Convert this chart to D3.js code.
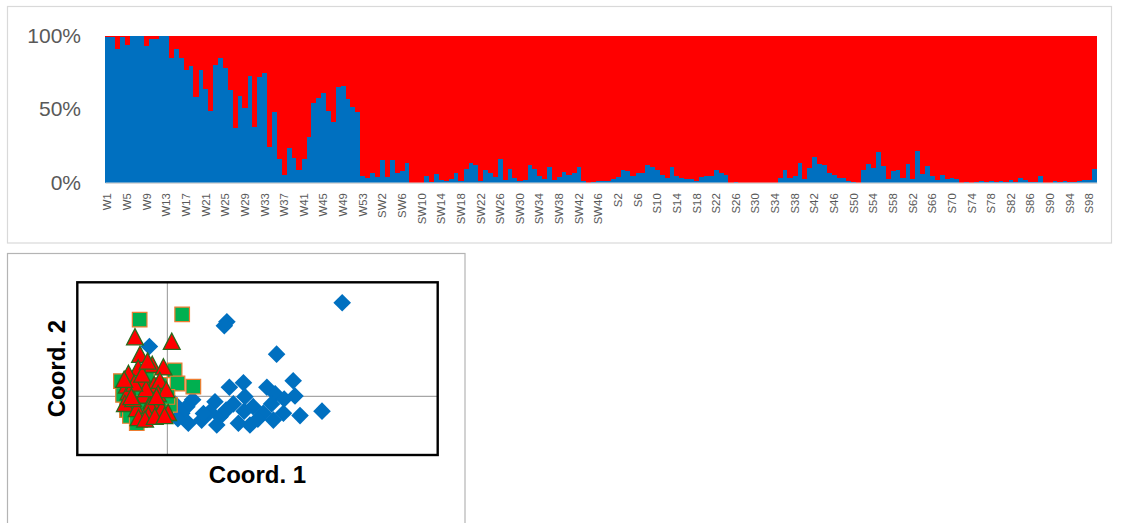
<!DOCTYPE html>
<html>
<head>
<meta charset="utf-8">
<script src="https://cdn.jsdelivr.net/npm/d3@7"></script>
<style>
  html, body { margin: 0; padding: 0; background: #fff; }
  svg { display: block; }
  text { font-family: "Liberation Sans", Arial, sans-serif; }
</style>
</head>
<body>
<svg id="chart" width="1121" height="523"></svg>
<script>
// ---------- Ancestry proportions per sample (two clusters, 100% stacked) ----------
const categories = [
  "W1","W2","W3","W4","W5","W6","W7","W8","W9","W10","W11","W12","W13","W14","W15","W16","W17","W18","W19","W20",
  "W21","W22","W23","W24","W25","W26","W27","W28","W29","W30","W31","W32","W33","W34","W35","W36","W37","W38","W39","W40",
  "W41","W42","W43","W44","W45","W46","W47","W48","W49","W50","W51","W52","W53","W54","W55",
  "SW1","SW2","SW3","SW4","SW5","SW6","SW7","SW8","SW9","SW10","SW11","SW12","SW13","SW14","SW15","SW16","SW17","SW18","SW19","SW20",
  "SW21","SW22","SW23","SW24","SW25","SW26","SW27","SW28","SW29","SW30","SW31","SW32","SW33","SW34","SW35","SW36","SW37","SW38","SW39","SW40",
  "SW41","SW42","SW43","SW44","SW45","SW46","SW47","SW48",
  "S1","S2","S3","S4","S5","S6","S7","S8","S9","S10","S11","S12","S13","S14","S15","S16","S17","S18","S19","S20",
  "S21","S22","S23","S24","S25","S26","S27","S28","S29","S30","S31","S32","S33","S34","S35","S36","S37","S38","S39","S40",
  "S41","S42","S43","S44","S45","S46","S47","S48","S49","S50","S51","S52","S53","S54","S55","S56","S57","S58","S59","S60",
  "S61","S62","S63","S64","S65","S66","S67","S68","S69","S70","S71","S72","S73","S74","S75","S76","S77","S78","S79","S80",
  "S81","S82","S83","S84","S85","S86","S87","S88","S89","S90","S91","S92","S93","S94","S95","S96","S97","S98","S99"
];

// cluster 1 (blue), percent
const cluster1 = [
  99, 99, 91, 99, 94, 100, 100, 100, 93, 97.5,
  97.5, 100, 100, 85, 90.7, 84.5, 76.4, 79.7, 58.2, 76.6,
  63.6, 48.8, 79.8, 85.1, 77.8, 63.1, 37, 59.3, 50.6, 72.9,
  37.9, 72, 74.7, 24, 48.3, 15.9, 5, 23.8, 16.8, 8.4,
  15.9, 31.2, 54.3, 57.3, 61, 48.8, 41, 65.2, 66.1, 56.6,
  51.3, 48.3, 4.5, 3.1, 6.3, 3.6, 15.2, 3.6, 15.4, 6.3,
  7.7, 13.4, 0, 0, 0, 4.5, 0.7, 5.9, 1.6, 1.1,
  2.3, 6.3, 1.1, 9, 13.2, 12, 1.1, 8.8, 6.8, 3.6,
  16.3, 2, 9, 3.2, 1.1, 1.8, 12, 9, 4.5, 2.3,
  10.4, 1.6, 4.1, 7.3, 5.2, 6.3, 10.4, 0.9, 0, 0.2,
  0.9, 0.9, 0.9, 2.5, 3.6, 8.3, 7.9, 4.4, 6.3, 6.3,
  11.9, 10.4, 8.4, 5, 3.5, 10.5, 4.5, 2.9, 2.7, 2.3,
  0.9, 3.6, 4.3, 4.3, 8.6, 6.3, 5.2, 0, 0.5, 0,
  0, 0, 0, 0, 0, 0, 0, 2.9, 8.7, 3.4,
  4.6, 13.2, 2.5, 10.2, 17.7, 12.6, 12.2, 6.6, 5.2, 2.9,
  2.9, 1, 0.8, 0, 8.8, 12.5, 9.8, 21, 11.1, 2.3,
  7.8, 8.9, 3.4, 12.9, 2.8, 21.3, 6, 11.1, 4.3, 1.6,
  5, 2.3, 3.5, 2.3, 0, 0.5, 0, 0.5, 0.9, 0.2,
  0.9, 0.2, 0.9, 0.2, 2, 0.5, 3.2, 1.8, 0.5, 0.5,
  4.5, 0, 0, 1.1, 0.5, 1.1, 0.5, 0.5, 1.1, 2,
  1.6, 9.3
];

// cluster 2 (red), percent
const cluster2 = [
  1, 1, 9, 1, 6, 0, 0, 0, 7, 2.5,
  2.5, 0, 0, 15, 9.3, 15.5, 23.6, 20.3, 41.8, 23.4,
  36.4, 51.2, 20.2, 14.9, 22.2, 36.9, 63, 40.7, 49.4, 27.1,
  62.1, 28, 25.3, 76, 51.7, 84.1, 95, 76.2, 83.2, 91.6,
  84.1, 68.8, 45.7, 42.7, 39, 51.2, 59, 34.8, 33.9, 43.4,
  48.7, 51.7, 95.5, 96.9, 93.7, 96.4, 84.8, 96.4, 84.6, 93.7,
  92.3, 86.6, 100, 100, 100, 95.5, 99.3, 94.1, 98.4, 98.9,
  97.7, 93.7, 98.9, 91, 86.8, 88, 98.9, 91.2, 93.2, 96.4,
  83.7, 98, 91, 96.8, 98.9, 98.2, 88, 91, 95.5, 97.7,
  89.6, 98.4, 95.9, 92.7, 94.8, 93.7, 89.6, 99.1, 100, 99.8,
  99.1, 99.1, 99.1, 97.5, 96.4, 91.7, 92.1, 95.6, 93.7, 93.7,
  88.1, 89.6, 91.6, 95, 96.5, 89.5, 95.5, 97.1, 97.3, 97.7,
  99.1, 96.4, 95.7, 95.7, 91.4, 93.7, 94.8, 100, 99.5, 100,
  100, 100, 100, 100, 100, 100, 100, 97.1, 91.3, 96.6,
  95.4, 86.8, 97.5, 89.8, 82.3, 87.4, 87.8, 93.4, 94.8, 97.1,
  97.1, 99, 99.2, 100, 91.2, 87.5, 90.2, 79, 88.9, 97.7,
  92.2, 91.1, 96.6, 87.1, 97.2, 78.7, 94, 88.9, 95.7, 98.4,
  95, 97.7, 96.5, 97.7, 100, 99.5, 100, 99.5, 99.1, 99.8,
  99.1, 99.8, 99.1, 99.8, 98, 99.5, 96.8, 98.2, 99.5, 99.5,
  95.5, 100, 100, 98.9, 99.5, 98.9, 99.5, 99.5, 98.9, 98,
  98.4, 90.7
];

const yTicks = [0, 0.5, 1];

// ---------- Ordination scores (Coord. 1, Coord. 2) for three groups ----------
const groupW_x = [0.485, 0.165, 0.158, 0.303, -0.050, 0.349, 0.354, 0.429, 0.368, 0.172,
                  0.211, 0.276, 0.299, 0.215, 0.132, 0.183, 0.238, 0.266, 0.289, 0.322,
                  0.197, 0.229, 0.137, 0.095, 0.058, 0.054, 0.040, 0.146, 0.294, 0.251,
                  0.213, 0.163, 0.118, 0.324, 0.021, 0.029, 0.070, 0.100];
const groupW_y = [0.271, 0.216, 0.204, 0.122, 0.144, 0.045, 0.001, -0.043, -0.056, 0.026,
                  0.039, 0.026, 0.007, -0.001, -0.016, -0.022, -0.030, -0.049, -0.022, -0.049,
                  -0.078, -0.083, -0.083, -0.069, -0.078, -0.030, -0.049, -0.059, -0.069, -0.066,
                  -0.043, -0.040, -0.045, -0.008, -0.022, -0.065, -0.010, -0.050];

const groupSW_x = [-0.077, 0.041, 0.020, 0.028, 0.072, -0.129, -0.123, 0.007, -0.076, -0.112,
                   -0.096, -0.048, -0.021, -0.057, -0.104, -0.034, 0.000, -0.066, -0.085];
const groupSW_y = [0.222, 0.237, 0.075, 0.037, 0.028, 0.044, 0.004, -0.025, -0.069, -0.040,
                   0.018, -0.011, 0.033, 0.059, -0.057, -0.048, -0.002, -0.020, -0.078];

const groupS_x = [-0.090, 0.012, -0.076, -0.042, -0.011, -0.081, -0.108, -0.065, -0.037, -0.021,
                  -0.113, -0.108, -0.067, -0.044, -0.118, -0.085, -0.048, -0.016, 0.002, -0.053,
                  -0.095, -0.026, -0.059, -0.092, -0.003, -0.070, -0.030, -0.100, -0.080, -0.062,
                  -0.035, -0.008, -0.120, -0.055];
const groupS_y = [0.168, 0.155, 0.117, 0.088, 0.081, 0.078, 0.062, 0.042, 0.030, 0.042,
                  0.028, 0.009, -0.001, -0.016, -0.025, -0.040, -0.030, -0.040, -0.051, -0.059,
                  -0.011, 0.004, 0.018, 0.034, 0.015, 0.060, -0.005, -0.005, -0.066, -0.070,
                  -0.062, -0.060, 0.045, 0.098];

const svg = d3.select("#chart");

// ================= Top panel: stacked proportions =================
svg.append("rect")
  .attr("x", 7.5).attr("y", 6.5).attr("width", 1104).attr("height", 236.5)
  .attr("fill", "#fff").attr("stroke", "#d9d9d9").attr("stroke-width", 1.2);

const bar = { left: 105, right: 1096.7, top: 35.7, bottom: 182.7 };

const rows = categories.map((c, i) => ({ name: c, c1: cluster1[i], c2: cluster2[i] }));
const series = d3.stack().keys(["c1", "c2"]).offset(d3.stackOffsetExpand)(rows);

const xBand = d3.scaleBand().domain(categories).range([bar.left, bar.right]).padding(0);
const yPct = d3.scaleLinear().domain([0, 1]).range([bar.bottom, bar.top]);
const colors = { c1: "#0070C0", c2: "#FF0000" };

svg.append("g").selectAll("g")
  .data(series)
  .join("g")
    .attr("fill", d => colors[d.key])
  .selectAll("rect")
  .data(d => d)
  .join("rect")
    .attr("x", d => xBand(d.data.name))
    .attr("width", xBand.bandwidth() + 0.3)
    .attr("y", d => yPct(d[1]))
    .attr("height", d => Math.max(0, yPct(d[0]) - yPct(d[1])))
    .attr("shape-rendering", "crispEdges");

// y axis (labels only)
const yAxis = svg.append("g")
  .attr("transform", `translate(${bar.left},0)`)
  .call(d3.axisLeft(yPct).tickValues(yTicks).tickFormat(d3.format(".0%")).tickSize(0).tickPadding(24));
yAxis.select(".domain").remove();
yAxis.selectAll("text")
  .attr("font-size", 21).attr("fill", "#595959")
  .attr("font-family", "'Liberation Sans', Arial, sans-serif");

// x axis: every fourth category label, rotated
const xAxis = svg.append("g")
  .attr("transform", `translate(0,${bar.bottom})`)
  .call(d3.axisBottom(xBand)
    .tickValues(categories.filter((c, i) => i % 4 === 0))
    .tickSize(0));
xAxis.select(".domain").attr("stroke", "#d9d9d9").attr("stroke-width", 1.5);
xAxis.selectAll("text")
  .attr("font-size", 11.4).attr("fill", "#595959")
  .attr("font-family", "'Liberation Sans', Arial, sans-serif")
  .attr("text-anchor", "end")
  .attr("transform", "translate(0,10.5) rotate(-90)")
  .attr("x", 0).attr("y", 0).attr("dy", "0.35em");

// ================= Bottom panel: ordination scatter =================
svg.append("rect")
  .attr("x", 7.5).attr("y", 253.5).attr("width", 457.5).attr("height", 290)
  .attr("fill", "#fff").attr("stroke", "#b4b4b4").attr("stroke-width", 1.2);

const sc = { left: 77.3, right: 437.7, top: 282.3, bottom: 455 };
const xS = d3.scaleLinear().domain([-0.25, 0.75]).range([sc.left, sc.right]);
const yS = d3.scaleLinear().domain([-0.17, 0.33]).range([sc.bottom, sc.top]);

// zero lines
svg.append("line")
  .attr("x1", xS(0)).attr("x2", xS(0)).attr("y1", sc.top).attr("y2", sc.bottom)
  .attr("stroke", "#a6a6a6").attr("stroke-width", 1.2);
svg.append("line")
  .attr("x1", sc.left).attr("x2", sc.right).attr("y1", yS(0)).attr("y2", yS(0))
  .attr("stroke", "#a6a6a6").attr("stroke-width", 1.2);

const pts = (xs, ys) => xs.map((x, i) => ({ x, y: ys[i] }));
const diamond = "M0,-8.8L8.8,0L0,8.8L-8.8,0Z";
const square = "M-7.3,-7.3H7.3V7.3H-7.3Z";
const triangle = "M0,-9.6L8.4,6.6H-8.4Z";

const marks = svg.append("g");
marks.selectAll("path.w")
  .data(pts(groupW_x, groupW_y))
  .join("path").attr("class", "w")
    .attr("d", diamond)
    .attr("transform", d => `translate(${xS(d.x)},${yS(d.y)})`)
    .attr("fill", "#0070C0");

marks.selectAll("path.sw")
  .data(pts(groupSW_x, groupSW_y))
  .join("path").attr("class", "sw")
    .attr("d", square)
    .attr("transform", d => `translate(${xS(d.x)},${yS(d.y)})`)
    .attr("fill", "#00B050").attr("stroke", "#ED7D31").attr("stroke-width", 1.2);

marks.selectAll("path.s")
  .data(pts(groupS_x, groupS_y))
  .join("path").attr("class", "s")
    .attr("d", triangle)
    .attr("transform", d => `translate(${xS(d.x)},${yS(d.y)})`)
    .attr("fill", "#FF0000").attr("stroke", "#2A6A1C").attr("stroke-width", 1.3);

// plot frame
svg.append("rect")
  .attr("x", sc.left).attr("y", sc.top)
  .attr("width", sc.right - sc.left).attr("height", sc.bottom - sc.top)
  .attr("fill", "none").attr("stroke", "#000").attr("stroke-width", 2.4);

// axis titles
svg.append("text")
  .attr("x", (sc.left + sc.right) / 2).attr("y", 483.3)
  .attr("text-anchor", "middle")
  .attr("font-size", 24).attr("font-weight", "bold").attr("fill", "#000")
  .text("Coord. 1");
svg.append("text")
  .attr("transform", `translate(65,${(sc.top + sc.bottom) / 2}) rotate(-90)`)
  .attr("text-anchor", "middle")
  .attr("font-size", 24).attr("font-weight", "bold").attr("fill", "#000")
  .text("Coord. 2");
</script>
</body>
</html>
